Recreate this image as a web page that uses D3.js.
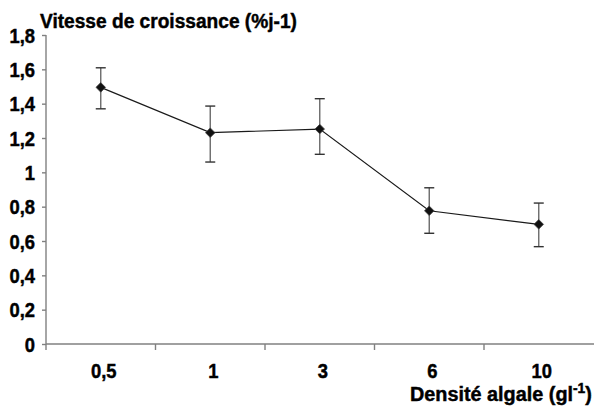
<!DOCTYPE html>
<html>
<head>
<meta charset="utf-8">
<script src="https://cdn.jsdelivr.net/npm/d3@7"></script>
<style>
  body { margin: 0; background: #fff; }
  svg text { font-family: "Liberation Sans", Arial, sans-serif; font-weight: bold; fill: #000; stroke: #000; stroke-width: 0.45; }
</style>
</head>
<body>
<div id="chart"></div>
<script>
const categories = ["0,5", "1", "3", "6", "10"];
const growth = [1.495, 1.231, 1.252, 0.776, 0.697];
const errUp = [1.609, 1.386, 1.429, 0.910, 0.821];
const errDown = [1.370, 1.060, 1.105, 0.645, 0.567];
const yTicks = [0, 0.2, 0.4, 0.6, 0.8, 1, 1.2, 1.4, 1.6, 1.8];

const width = 595, height = 410;
const mLeft = 46, mRight = 594, mTop = 35, mBottom = 344;
const sx = 0.92;

const svg = d3.select("#chart").append("svg")
  .attr("width", width)
  .attr("height", height);

const x = d3.scaleBand().domain(categories).range([mLeft, mLeft + 5 * 109.5]).padding(0);
const y = d3.scaleLinear().domain([0, 1.8]).range([mBottom, mTop]);

const fmt = d => String(d).replace(".", ",");

// squeeze a text horizontally until it spans the wanted width
function fit(sel, x0, w) {
  const bw = sel.node().getBBox().width;
  const k = w / bw;
  sel.attr("transform", `translate(${x0},0) scale(${k},1) translate(${-x0},0)`);
}

// y axis
const yAxis = svg.append("g")
  .attr("transform", `translate(${mLeft},0)`)
  .call(d3.axisLeft(y).tickValues(yTicks).tickSize(4).tickPadding(5).tickFormat(fmt));
yAxis.select(".domain").attr("d", `M0,${mTop}V${mBottom + 6}`).attr("stroke", "#808080").attr("stroke-width", 1.4);
yAxis.selectAll(".tick line").attr("stroke", "#808080").attr("stroke-width", 1.4);
yAxis.selectAll(".tick text")
  .attr("font-size", 20).attr("fill", "#000")
  .attr("x", -11 / sx)
  .attr("dy", "0.36em")
  .attr("transform", `scale(${sx},1)`);

// x axis
const xAxis = svg.append("g")
  .attr("transform", `translate(0,${mBottom})`)
  .call(d3.axisBottom(x).tickSize(0).tickPadding(20));
xAxis.select(".domain").attr("d", `M${mLeft},0H${mRight}`).attr("stroke", "#808080").attr("stroke-width", 1.4);
xAxis.selectAll(".tick text")
  .attr("font-size", 20).attr("fill", "#000")
  .attr("transform", `translate(3,0) scale(${sx},1)`);
xAxis.selectAll(".sep")
  .data(categories.slice(1))
  .enter().append("line")
  .attr("x1", d => x(d)).attr("x2", d => x(d))
  .attr("y1", 0).attr("y2", 6)
  .attr("stroke", "#808080").attr("stroke-width", 1.4);

const cx = d => x(d) + x.bandwidth() / 2;

// error bars
const eb = svg.append("g").attr("stroke", "#6a6a6a").attr("stroke-width", 1.4);
categories.forEach((c, i) => {
  eb.append("line").attr("x1", cx(c)).attr("x2", cx(c)).attr("y1", y(errUp[i])).attr("y2", y(errDown[i]));
  eb.append("line").attr("x1", cx(c) - 5).attr("x2", cx(c) + 5).attr("y1", y(errUp[i])).attr("y2", y(errUp[i])).attr("stroke", "#333");
  eb.append("line").attr("x1", cx(c) - 5).attr("x2", cx(c) + 5).attr("y1", y(errDown[i])).attr("y2", y(errDown[i])).attr("stroke", "#333");
});

// line
svg.append("path")
  .datum(categories.map((c, i) => [cx(c), y(growth[i])]))
  .attr("fill", "none")
  .attr("stroke", "#1a1a1a")
  .attr("stroke-width", 1.2)
  .attr("d", d3.line());

// markers
svg.append("g").selectAll("path")
  .data(categories.map((c, i) => [cx(c), y(growth[i])]))
  .enter().append("path")
  .attr("transform", d => `translate(${d[0]},${d[1]})`)
  .attr("d", d3.symbol(d3.symbolDiamond2, 58))
  .attr("fill", "#111")
  .attr("stroke", "#444")
  .attr("stroke-width", 0.8);

// titles
const yt = svg.append("text")
  .attr("x", 40).attr("y", 28)
  .attr("font-size", 20)
  .text("Vitesse de croissance (%j-1)");
fit(yt, 40, 257);

const xt = svg.append("text")
  .attr("x", 410).attr("y", 401)
  .attr("font-size", 20);
xt.append("tspan").text("Densité algale (gl");
xt.append("tspan").attr("dy", -8).attr("font-size", 14).text("-1");
xt.append("tspan").attr("dy", 8).text(")");
fit(xt, 410, 182);
</script>
</body>
</html>
